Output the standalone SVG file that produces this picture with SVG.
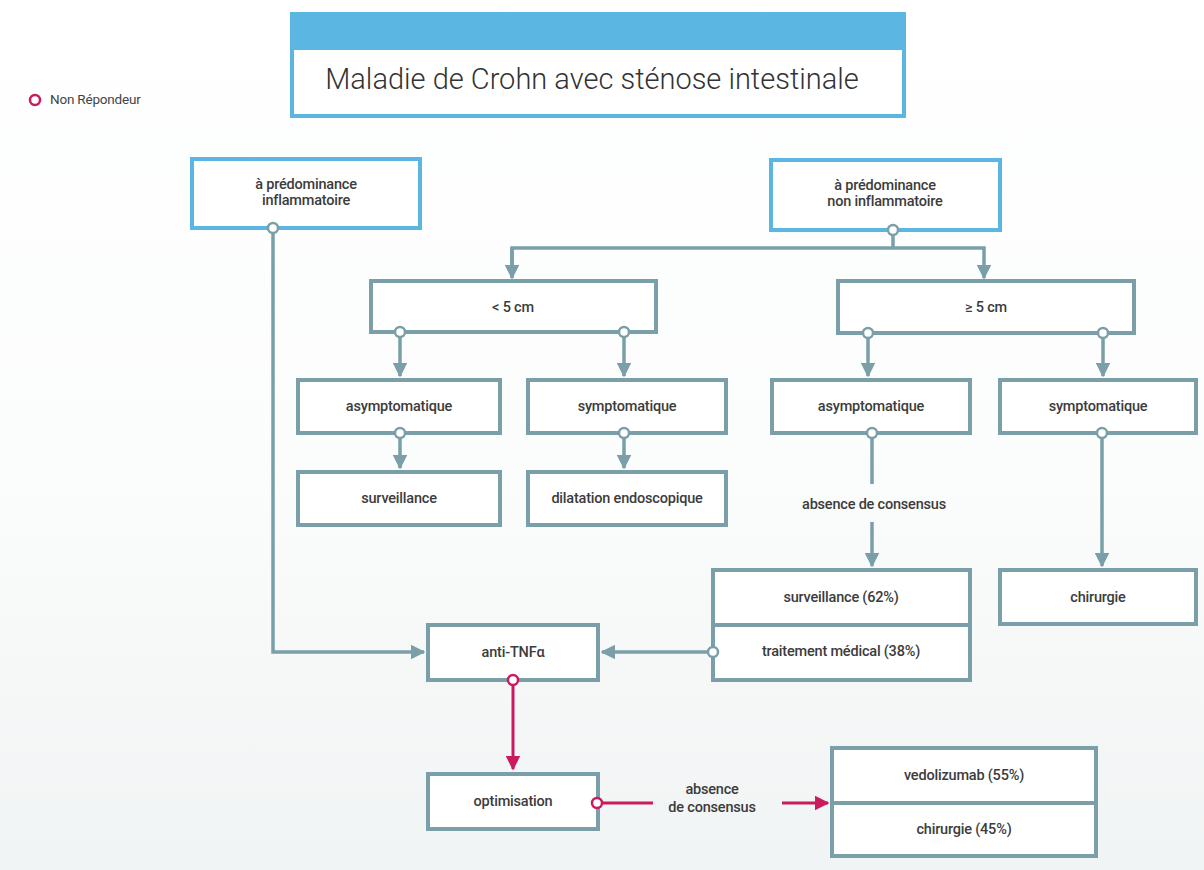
<svg xmlns="http://www.w3.org/2000/svg" width="1204" height="870" viewBox="0 0 1204 870">
<defs>
<style>
.box{fill:#ffffff;stroke:#7a9fa9;stroke-width:4}
.bbox{fill:#ffffff;stroke:#5cb6e2;stroke-width:4}
.t{font-family:Roboto,"Liberation Sans",sans-serif;font-size:14.5px;font-weight:500;fill:#3c3c3c;text-anchor:middle;letter-spacing:-0.2px}
.ln{fill:none;stroke:#7a9fa9;stroke-width:3.5}
.rl{fill:none;stroke:#cc1a5e;stroke-width:3}
.dot{fill:#ffffff;stroke:#7a9fa9;stroke-width:2.5}
.rdot{fill:#ffffff;stroke:#cc1a5e;stroke-width:2.5}
</style>
<linearGradient id="bg" x1="0" y1="0" x2="0" y2="1">
<stop offset="0" stop-color="#ffffff"/>
<stop offset="0.55" stop-color="#fbfcfc"/>
<stop offset="1" stop-color="#f1f4f4"/>
</linearGradient>
<marker id="ag" viewBox="0 0 10 10" refX="9" refY="5" markerWidth="4.2" markerHeight="4.2" orient="auto" markerUnits="strokeWidth"><path d="M0,0 L10,5 L0,10 z" fill="#7a9fa9"/></marker>
<marker id="ar" viewBox="0 0 10 10" refX="9" refY="5" markerWidth="5" markerHeight="5" orient="auto" markerUnits="strokeWidth"><path d="M0,0 L10,5 L0,10 z" fill="#cc1a5e"/></marker>
</defs>
<rect width="1204" height="870" fill="url(#bg)"/>

<g id="legend">
<circle cx="35" cy="100" r="5" fill="none" stroke="#cc1a5e" stroke-width="2.5"/>
<text x="50" y="104" style="font-family:Roboto,'Liberation Sans',sans-serif;font-size:13.5px;fill:#444;letter-spacing:-0.2px">Non Répondeur</text>
</g>

<g id="title">
<rect x="290" y="12" width="616" height="38" fill="#5cb6e2"/>
<rect x="292" y="48" width="612" height="68" fill="#ffffff" stroke="#5cb6e2" stroke-width="4"/>
<text x="592" y="89" style="font-family:Roboto,'Liberation Sans',sans-serif;font-size:29px;font-weight:300;fill:#333;text-anchor:middle">Maladie de Crohn avec sténose intestinale</text>
</g>

<g id="connectors">
<polyline class="ln" points="273,228 273,652 424,652" marker-end="url(#ag)"/>
<line class="ln" x1="893" y1="230" x2="893" y2="248"/>
<polyline class="ln" points="512,278 512,248 984,248 984,278" marker-end="url(#ag)"/>
<line class="ln" x1="512" y1="248" x2="512" y2="278" marker-end="url(#ag)"/>
<line class="ln" x1="400" y1="332" x2="400" y2="376" marker-end="url(#ag)"/>
<line class="ln" x1="624" y1="332" x2="624" y2="376" marker-end="url(#ag)"/>
<line class="ln" x1="868" y1="333" x2="868" y2="376" marker-end="url(#ag)"/>
<line class="ln" x1="1103" y1="333" x2="1103" y2="376" marker-end="url(#ag)"/>
<line class="ln" x1="400" y1="433" x2="400" y2="468" marker-end="url(#ag)"/>
<line class="ln" x1="624" y1="433" x2="624" y2="468" marker-end="url(#ag)"/>
<line class="ln" x1="872" y1="433" x2="872" y2="484"/>
<line class="ln" x1="872" y1="522" x2="872" y2="566" marker-end="url(#ag)"/>
<line class="ln" x1="1102" y1="433" x2="1102" y2="566" marker-end="url(#ag)"/>
<line class="ln" x1="713" y1="652" x2="602" y2="652" marker-end="url(#ag)"/>
<line class="rl" x1="513" y1="680" x2="513" y2="769" marker-end="url(#ar)"/>
<line class="rl" x1="597" y1="803" x2="653" y2="803"/>
<line class="rl" x1="782" y1="803" x2="828" y2="803" marker-end="url(#ar)"/>
<text class="t" x="874" y="509">absence de consensus</text>
<text class="t" x="712" y="794">absence</text>
<text class="t" x="712" y="812">de consensus</text>
</g>

<g id="n-inflam">
<rect class="bbox" x="192" y="159" width="228" height="69"/>
<text class="t" x="306" y="189">à prédominance</text>
<text class="t" x="306" y="205">inflammatoire</text>
<circle class="dot" cx="273" cy="228" r="5"/>
</g>
<g id="n-noninflam">
<rect class="bbox" x="771" y="160" width="229" height="70"/>
<text class="t" x="885" y="190">à prédominance</text>
<text class="t" x="885" y="206">non inflammatoire</text>
<circle class="dot" cx="893" cy="230" r="5"/>
</g>
<g id="n-lt5">
<rect class="box" x="371" y="281" width="285" height="51"/>
<text class="t" x="513" y="312">&lt; 5 cm</text>
<circle class="dot" cx="400" cy="332" r="5"/>
<circle class="dot" cx="624" cy="332" r="5"/>
</g>
<g id="n-ge5">
<rect class="box" x="838" y="281" width="296" height="52"/>
<text class="t" x="986" y="312">≥ 5 cm</text>
<circle class="dot" cx="868" cy="333" r="5"/>
<circle class="dot" cx="1103" cy="333" r="5"/>
</g>
<g id="n-asym1">
<rect class="box" x="298" y="380" width="202" height="53"/>
<text class="t" x="399" y="411">asymptomatique</text>
<circle class="dot" cx="400" cy="433" r="5"/>
</g>
<g id="n-sym1">
<rect class="box" x="528" y="380" width="198" height="53"/>
<text class="t" x="627" y="411">symptomatique</text>
<circle class="dot" cx="624" cy="433" r="5"/>
</g>
<g id="n-asym2">
<rect class="box" x="772" y="380" width="198" height="53"/>
<text class="t" x="871" y="411">asymptomatique</text>
<circle class="dot" cx="872" cy="433" r="5"/>
</g>
<g id="n-sym2">
<rect class="box" x="1000" y="380" width="196" height="53"/>
<text class="t" x="1098" y="411">symptomatique</text>
<circle class="dot" cx="1102" cy="433" r="5"/>
</g>
<g id="n-surv">
<rect class="box" x="298" y="472" width="202" height="53"/>
<text class="t" x="399" y="503">surveillance</text>
</g>
<g id="n-dilat">
<rect class="box" x="528" y="472" width="198" height="53"/>
<text class="t" x="627" y="503">dilatation endoscopique</text>
</g>
<g id="n-survtrait">
<rect class="box" x="713" y="570" width="257" height="110"/>
<line x1="713" y1="625" x2="970" y2="625" stroke="#7a9fa9" stroke-width="4"/>
<text class="t" x="841" y="602">surveillance (62%)</text>
<text class="t" x="841" y="656">traitement médical (38%)</text>
<circle class="dot" cx="713" cy="652" r="5"/>
</g>
<g id="n-chir">
<rect class="box" x="1000" y="570" width="196" height="54"/>
<text class="t" x="1098" y="602">chirurgie</text>
</g>
<g id="n-antitnf">
<rect class="box" x="428" y="625" width="170" height="55"/>
<text class="t" x="513" y="657">anti-TNFα</text>
<circle class="rdot" cx="513" cy="680" r="5"/>
</g>
<g id="n-optim">
<rect class="box" x="428" y="774" width="170" height="55"/>
<text class="t" x="513" y="806">optimisation</text>
<circle class="rdot" cx="597" cy="803" r="5"/>
</g>
<g id="n-vedo">
<rect class="box" x="832" y="748" width="264" height="108"/>
<line x1="832" y1="803" x2="1096" y2="803" stroke="#7a9fa9" stroke-width="4"/>
<text class="t" x="964" y="780">vedolizumab (55%)</text>
<text class="t" x="964" y="834">chirurgie (45%)</text>
</g>
</svg>
